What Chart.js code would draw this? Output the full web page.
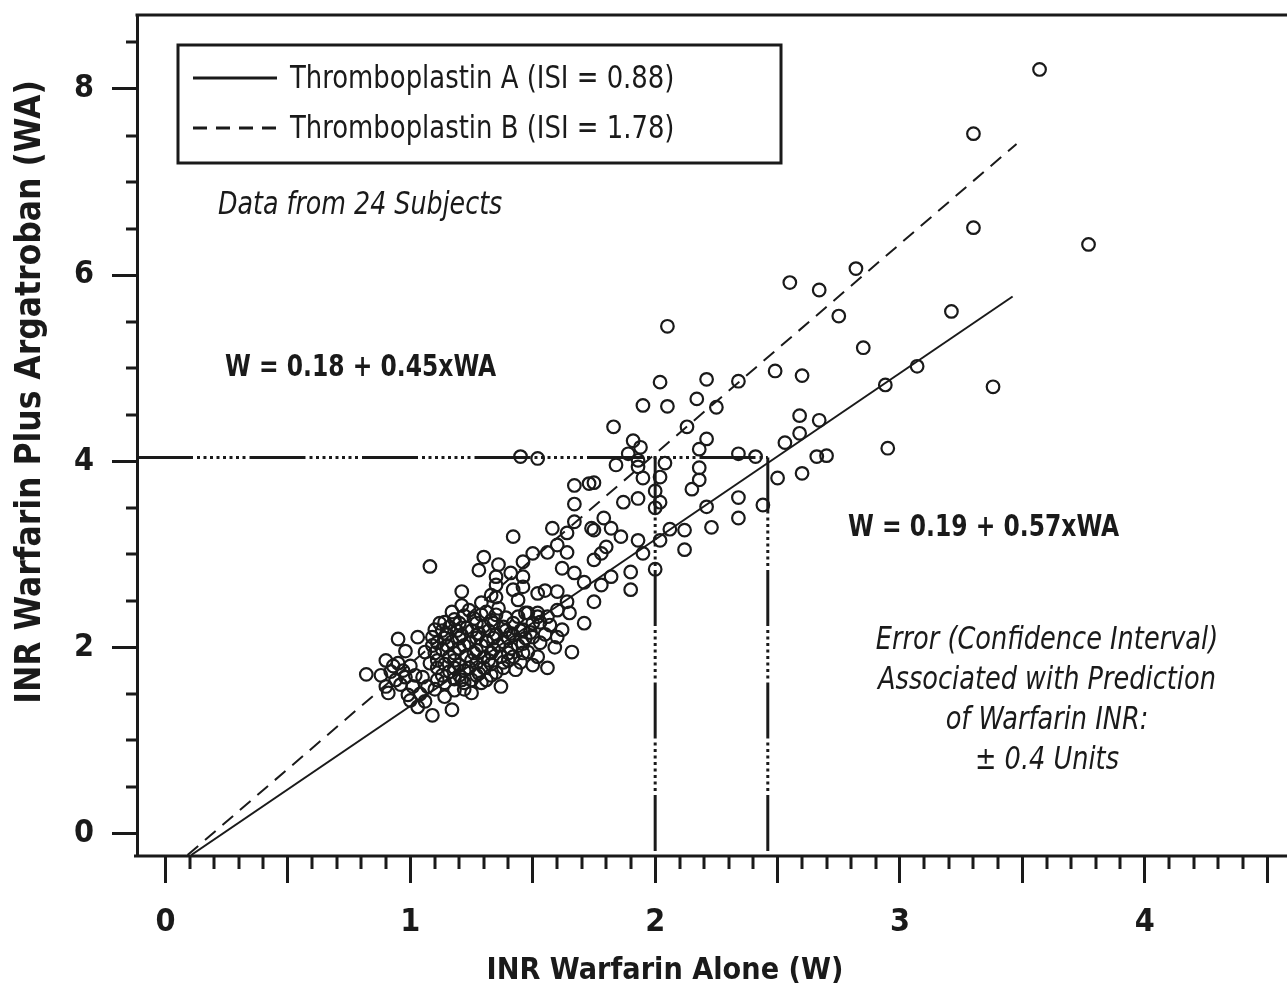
<!DOCTYPE html>
<html>
<head>
<meta charset="utf-8">
<title>INR Warfarin vs Warfarin Plus Argatroban</title>
<script src="https://cdn.jsdelivr.net/npm/chart.js@4.4.1/dist/chart.umd.min.js"></script>
<style>
  html, body { margin: 0; padding: 0; background: #fff; }
  #wrap { width: 1287px; height: 992px; }
</style>
</head>
<body>
<div id="wrap"><canvas id="inrChart" width="1287" height="992"></canvas></div>
<script>
// axis ranges (INR units)
const xRange = [-0.1165, 4.546];
const yRange = [-0.231, 8.795];

// subjects, [W, WA]
const upperPts = [
  [3.57, 8.21], [3.30, 7.52], [3.30, 6.51], [3.77, 6.33], [2.82, 6.07], [2.55, 5.92],
  [2.67, 5.84], [2.75, 5.56], [3.21, 5.61], [2.85, 5.22], [2.49, 4.97], [2.60, 4.92],
  [3.07, 5.02], [2.94, 4.82], [3.38, 4.80], [2.59, 4.49], [2.67, 4.44], [2.59, 4.30],
  [2.53, 4.20], [2.95, 4.14], [2.41, 4.05], [2.66, 4.05], [2.70, 4.06], [2.60, 3.87],
  [2.50, 3.82]
];
const midPts = [
  [2.05, 5.45], [2.02, 4.85], [2.21, 4.88], [1.95, 4.60], [2.05, 4.59], [2.17, 4.67],
  [2.25, 4.58], [2.34, 4.86], [1.83, 4.37], [2.13, 4.37], [1.91, 4.22], [1.94, 4.15],
  [1.89, 4.08], [2.21, 4.24], [2.18, 4.13], [2.34, 4.08], [1.84, 3.96], [1.93, 3.94],
  [2.04, 3.98], [1.95, 3.82], [2.02, 3.83], [2.18, 3.93], [2.18, 3.80], [2.15, 3.70],
  [2.00, 3.68], [1.75, 3.77], [1.87, 3.56], [1.93, 3.60], [2.02, 3.56], [2.00, 3.50],
  [2.21, 3.51], [2.34, 3.61], [2.44, 3.53], [2.34, 3.39], [2.23, 3.29], [2.12, 3.26],
  [2.06, 3.27], [2.12, 3.05], [2.02, 3.15], [1.79, 3.39], [1.82, 3.28], [1.86, 3.19],
  [1.93, 3.15], [1.95, 3.01], [1.80, 3.08], [1.75, 3.26], [1.78, 3.01], [1.93, 4.01],
  [2.00, 2.84], [1.90, 2.81], [1.90, 2.62], [1.45, 4.05], [1.52, 4.03]
];
const bandPts = [
  [1.67, 3.74], [1.73, 3.76], [1.67, 3.54], [1.67, 3.35], [1.74, 3.28], [1.75, 2.94],
  [1.82, 2.76], [1.78, 2.67], [1.75, 2.49], [1.71, 2.26], [1.58, 3.28], [1.64, 3.23],
  [1.60, 3.10], [1.64, 3.02], [1.62, 2.85], [1.67, 2.80], [1.71, 2.70], [1.56, 3.02],
  [1.50, 3.01], [1.46, 2.92], [1.42, 3.19], [1.30, 2.97], [1.28, 2.83], [1.36, 2.89],
  [1.35, 2.76], [1.41, 2.80], [1.46, 2.76], [1.46, 2.65], [1.44, 2.51], [1.35, 2.54],
  [1.21, 2.60], [1.21, 2.45], [1.29, 2.48], [1.52, 2.58], [1.55, 2.61], [1.60, 2.60],
  [1.64, 2.49], [1.65, 2.37], [1.60, 2.40], [1.56, 2.33], [1.52, 2.33], [1.62, 2.19],
  [1.66, 1.95], [1.59, 2.00], [1.44, 2.33], [1.48, 2.37], [1.53, 2.27], [1.57, 2.24],
  [1.60, 2.11], [1.46, 2.19], [1.42, 2.13], [1.50, 2.11], [1.53, 2.05], [1.08, 2.87],
  [1.33, 2.56], [1.35, 2.67], [1.42, 2.62], [1.36, 2.42]
];
const clusterPts = [
  [0.82, 1.71], [0.95, 2.09], [0.98, 1.96], [0.90, 1.86], [0.88, 1.70], [0.90, 1.58],
  [0.91, 1.51], [0.92, 1.74], [0.94, 1.65], [1.03, 2.11], [1.10, 2.19], [1.14, 2.27],
  [0.99, 1.49], [1.03, 1.36], [1.09, 1.27], [1.17, 1.33], [1.25, 1.51], [1.37, 1.58],
  [1.50, 1.81], [1.47, 2.37], [1.50, 2.26], [1.52, 2.37], [1.48, 1.95], [1.38, 1.84],
  [1.42, 1.90], [1.43, 1.76], [1.14, 1.47], [1.18, 1.54], [1.21, 1.65], [1.28, 1.72],
  [1.31, 1.65], [1.07, 1.58], [1.11, 1.65], [1.05, 1.68], [1.09, 2.11], [1.11, 2.05],
  [1.06, 1.95], [1.08, 1.83], [0.95, 1.83], [0.98, 1.68], [1.01, 1.58],
  [1.18, 2.30], [1.26, 2.31], [1.33, 2.29], [1.16, 2.22], [1.23, 2.21], [1.30, 2.23],
  [1.38, 2.22], [1.15, 2.14], [1.21, 2.13], [1.28, 2.15], [1.35, 2.14], [1.41, 2.15],
  [1.17, 2.06], [1.24, 2.05], [1.31, 2.07], [1.38, 2.06], [1.13, 1.98], [1.20, 1.99],
  [1.27, 1.97], [1.34, 1.98], [1.41, 1.99], [1.16, 1.90], [1.23, 1.91], [1.30, 1.89],
  [1.37, 1.90], [1.14, 1.82], [1.20, 1.81], [1.27, 1.83], [1.33, 1.82], [1.16, 1.74],
  [1.22, 1.75], [1.35, 1.73], [1.18, 1.66], [1.25, 1.65]
];
// the dense core, where circles run together
const corePts = [
  [1.22, 2.34], [1.29, 2.35], [1.12, 2.26], [1.20, 2.26], [1.27, 2.26], [1.34, 2.26],
  [1.42, 2.26], [1.13, 2.18], [1.19, 2.18], [1.25, 2.18], [1.32, 2.18], [1.39, 2.18],
  [1.45, 2.18], [1.14, 2.10], [1.20, 2.10], [1.27, 2.10], [1.34, 2.10], [1.40, 2.10],
  [1.47, 2.10], [1.09, 2.02], [1.15, 2.02], [1.22, 2.02], [1.29, 2.02], [1.36, 2.02],
  [1.44, 2.02], [1.10, 1.94], [1.18, 1.94], [1.26, 1.94], [1.33, 1.94], [1.40, 1.94],
  [1.46, 1.94], [1.11, 1.86], [1.18, 1.86], [1.25, 1.86], [1.32, 1.86], [1.40, 1.86],
  [1.11, 1.78], [1.18, 1.78], [1.24, 1.78], [1.30, 1.78], [1.38, 1.78], [1.13, 1.70],
  [1.20, 1.70], [1.27, 1.70], [1.33, 1.70], [1.14, 1.62], [1.22, 1.62], [1.29, 1.62],
  [1.10, 1.55], [1.22, 1.55], [0.93, 1.80], [0.97, 1.75], [1.00, 1.80], [1.02, 1.70],
  [0.96, 1.60], [1.04, 1.50], [1.06, 1.42], [1.00, 1.43], [1.46, 2.04], [1.49, 2.16],
  [1.55, 2.14], [1.45, 1.84], [1.52, 1.90], [1.56, 1.78],
  [1.24, 2.40], [1.31, 2.38], [1.17, 2.38], [1.39, 2.32], [1.35, 2.35]
];

// regression lines, end points [W, WA]
const lineA = [[0.105, -0.231], [3.46, 5.77]];
const lineB = [[0.09, -0.231], [3.476, 7.41]];
// prediction read-off at WA = 4.04
const readW = [2.0, 2.46];
const readWA = 4.04;

const xTitle = 'INR Warfarin Alone (W)';
const yTitle = 'INR Warfarin Plus Argatroban (WA)';
const legendLabels = ['Thromboplastin A (ISI = 0.88)', 'Thromboplastin B (ISI = 1.78)'];
const eqLabels = ['W = 0.18 + 0.45xWA', 'W = 0.19 + 0.57xWA'];
const noteLines = ['Error (Confidence Interval)', 'Associated with Prediction', 'of Warfarin INR:', '\u00b1 0.4 Units'];

const FONT = "'Liberation Sans Narrow', 'Arial Narrow', 'DejaVu Sans Condensed', sans-serif";
const INK = '#1a1a1a';
const dropDash = [56, 4, 3, 3.5, 3, 3.5, 3, 3.5, 3, 3.5, 3, 3.5, 3, 3.5, 3, 3.5, 3, 4];

function toXY(pairs) {
  return pairs.map(p => ({ x: p[0], y: p[1] }));
}

const isMajorX = v => Math.abs(v * 2 - Math.round(v * 2)) < 1e-6;
const isMajorY = v => Math.abs(v / 2 - Math.round(v / 2)) < 1e-6;

// text squeezed sideways, the figure uses a condensed face
function narrowText(ctx, s, x, y, sx, align, rot) {
  ctx.save();
  ctx.translate(x, y);
  if (rot) ctx.rotate(rot);
  ctx.scale(sx, 1);
  ctx.textAlign = align || 'left';
  ctx.fillText(s, 0, 0);
  ctx.restore();
}

// frame, minor ticks, axis titles, legend box and notes
const decorPlugin = {
  id: 'decor',
  afterDraw(chart) {
    const ctx = chart.ctx;
    const area = chart.chartArea;
    const xs = chart.scales.x, ys = chart.scales.y;
    ctx.save();
    ctx.strokeStyle = INK;
    ctx.lineWidth = 3;
    ctx.beginPath();
    // top and bottom of the frame run off the right edge of the figure
    ctx.moveTo(area.left - 1.5, area.top);
    ctx.lineTo(chart.width, area.top);
    ctx.moveTo(area.left - 3, area.bottom + 1);
    ctx.lineTo(chart.width, area.bottom + 1);
    xs.ticks.forEach(t => {
      if (t.value < -1e-6 || isMajorX(t.value)) return;
      const px = Math.round(xs.getPixelForValue(t.value));
      ctx.moveTo(px, area.bottom);
      ctx.lineTo(px, area.bottom + 14);
    });
    ys.ticks.forEach(t => {
      if (isMajorY(t.value)) return;
      const py = Math.round(ys.getPixelForValue(t.value));
      ctx.moveTo(area.left, py);
      ctx.lineTo(area.left - 11, py);
    });
    ctx.stroke();

    ctx.fillStyle = INK;
    ctx.textBaseline = 'middle';
    ctx.font = 'bold 31px ' + FONT;
    narrowText(ctx, xTitle, 665, 971, 0.975, 'center');
    ctx.font = 'bold 35px ' + FONT;
    narrowText(ctx, yTitle, 31, 392, 1.0, 'center', -Math.PI / 2);

    // legend box
    ctx.strokeRect(178, 45, 603, 118);
    const rows = [78, 128];
    [1, 2].forEach((di, i) => {
      const ds = chart.data.datasets[di];
      ctx.setLineDash(ds.borderDash || []);
      ctx.lineWidth = 3;
      ctx.beginPath();
      ctx.moveTo(193, rows[i]);
      ctx.lineTo(277, rows[i]);
      ctx.stroke();
    });
    ctx.setLineDash([]);
    ctx.font = '32px ' + FONT;
    legendLabels.forEach((s, i) => narrowText(ctx, s, 290, rows[i] + 2, 0.9));

    ctx.font = 'italic 32px ' + FONT;
    narrowText(ctx, 'Data from 24 Subjects', 218, 206, 0.88);

    ctx.font = 'bold 31px ' + FONT;
    narrowText(ctx, eqLabels[0], 225, 368, 0.84);
    narrowText(ctx, eqLabels[1], 848, 528, 0.84);

    ctx.font = 'italic 32px ' + FONT;
    noteLines.forEach((s, i) => narrowText(ctx, s, 1047, 641 + i * 40, 0.89, 'center'));
    ctx.restore();
  }
};

const ctx = document.getElementById('inrChart').getContext('2d');
new Chart(ctx, {
  type: 'scatter',
  data: {
    datasets: [
      {
        label: 'Subjects',
        data: toXY(upperPts.concat(midPts, bandPts, clusterPts, corePts)),
        pointStyle: 'circle',
        pointRadius: 6.3,
        pointBorderWidth: 2.2,
        pointBorderColor: INK,
        pointBackgroundColor: 'rgba(0,0,0,0)',
        showLine: false
      },
      {
        label: legendLabels[0],
        data: toXY(lineA),
        showLine: true,
        borderColor: INK,
        borderWidth: 2,
        pointRadius: 0
      },
      {
        label: legendLabels[1],
        data: toXY(lineB),
        showLine: true,
        borderColor: INK,
        borderWidth: 2,
        borderDash: [14, 9],
        pointRadius: 0
      },
      {
        label: 'read-off WA',
        data: [{ x: xRange[0], y: readWA }, { x: readW[1], y: readWA }],
        showLine: true, borderColor: INK, borderWidth: 3, borderDash: dropDash, pointRadius: 0
      },
      {
        label: 'read-off B',
        data: [{ x: readW[0], y: readWA }, { x: readW[0], y: yRange[0] }],
        showLine: true, borderColor: INK, borderWidth: 3, borderDash: dropDash, pointRadius: 0
      },
      {
        label: 'read-off A',
        data: [{ x: readW[1], y: readWA }, { x: readW[1], y: yRange[0] }],
        showLine: true, borderColor: INK, borderWidth: 3, borderDash: dropDash, pointRadius: 0
      }
    ]
  },
  options: {
    responsive: false,
    animation: false,
    devicePixelRatio: 1,
    layout: { padding: { top: 15, right: 0, left: 0, bottom: 0 } },
    plugins: {
      legend: { display: false },
      tooltip: { enabled: false }
    },
    scales: {
      x: {
        type: 'linear',
        min: xRange[0],
        max: xRange[1],
        afterFit: s => { s.height = 137; s.paddingLeft = 0; s.paddingRight = 0; },
        ticks: {
          stepSize: 0.1,
          includeBounds: false,
          autoSkip: false,
          maxRotation: 0,
          padding: 20,
          color: INK,
          font: { family: FONT, size: 32, weight: 'bold' },
          callback: v => (v >= 0 && Math.abs(v - Math.round(v)) < 1e-6) ? String(Math.round(v)) : ''
        },
        grid: {
          drawOnChartArea: false,
          drawTicks: true,
          tickLength: 28,
          tickWidth: 3,
          tickColor: c => (c.tick && c.tick.value >= -1e-6 && isMajorX(c.tick.value)) ? INK : 'rgba(0,0,0,0)'
        },
        border: { display: false },
        title: { display: false }
      },
      y: {
        type: 'linear',
        min: yRange[0],
        max: yRange[1],
        afterFit: s => { s.width = 137; s.paddingTop = 0; s.paddingBottom = 0; },
        ticks: {
          stepSize: 0.5,
          includeBounds: false,
          autoSkip: false,
          padding: 18,
          color: INK,
          font: { family: FONT, size: 32, weight: 'bold' },
          callback: v => isMajorY(v) ? String(Math.round(v)) : ''
        },
        grid: {
          drawOnChartArea: false,
          drawTicks: true,
          tickLength: 25,
          tickWidth: 3,
          tickColor: c => (c.tick && isMajorY(c.tick.value)) ? INK : 'rgba(0,0,0,0)'
        },
        border: { display: true, color: INK, width: 3 },
        title: { display: false }
      }
    }
  },
  plugins: [decorPlugin]
});
</script>
</body>
</html>
